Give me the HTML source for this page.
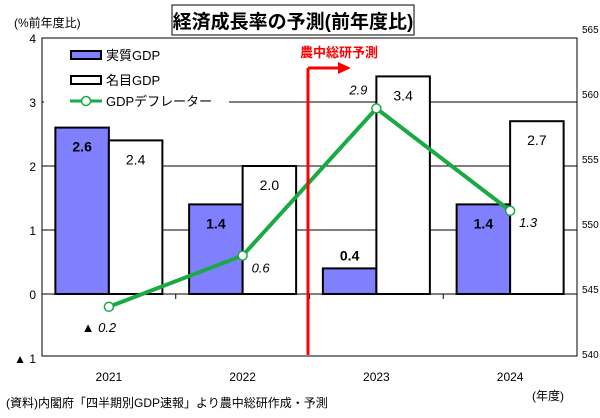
<!DOCTYPE html>
<html><head><meta charset="utf-8"><style>
body{margin:0;background:#fff;}
svg text{font-family:"Liberation Sans","Noto Sans CJK JP",sans-serif;}
</style></head><body>
<svg id="chart" width="600" height="413" viewBox="0 0 600 413" xmlns="http://www.w3.org/2000/svg">
<rect x="0" y="0" width="600" height="413" fill="#fff"/>
<g id="grid"></g>
<rect x="42" y="38" width="535" height="318" fill="none" stroke="#000" stroke-width="1"/>
<g id="bars"></g>
<g id="line"></g>
<g id="axes"></g>
<rect x="172" y="5" width="242" height="30" fill="#fff" stroke="#000" stroke-width="1"/>
<text x="293" y="28" font-size="19" font-weight="bold" text-anchor="middle">経済成長率の予測(前年度比)</text>
<text x="14" y="27" font-size="12">(%前年度比)</text>
<rect x="44" y="42" width="185" height="70" fill="#fff"/>
<rect x="71" y="51" width="30" height="8" fill="#8080ff" stroke="#000" stroke-width="2"/>
<text x="106" y="60" font-size="13">実質GDP</text>
<rect x="71" y="76" width="30" height="8" fill="#fff" stroke="#000" stroke-width="2"/>
<text x="106" y="85" font-size="13">名目GDP</text>
<line x1="70" y1="101" x2="102" y2="101" stroke="#1aaa44" stroke-width="3"/>
<circle cx="86" cy="101" r="4.5" fill="#fff" stroke="#1aaa44" stroke-width="1.5"/>
<text x="106" y="106" font-size="13">GDPデフレーター</text>
<g>
<line x1="308" y1="68" x2="308" y2="355" stroke="#ff0000" stroke-width="3"/>
<line x1="308" y1="68" x2="340" y2="68" stroke="#ff0000" stroke-width="3"/>
<polygon points="338,62 351,68 338,74" fill="#ff0000"/>
<text x="300" y="57" font-size="13" font-weight="bold" fill="#ff0000">農中総研予測</text>
</g>
<text x="532" y="400" font-size="12">(年度)</text>
<text x="6" y="407" font-size="12">(資料)内閣府「四半期別GDP速報」より農中総研作成・予測</text>
<script>
const categories=["2021","2022","2023","2024"];
const realGDP=[2.6,1.4,0.4,1.4];
const nominalGDP=[2.4,2.0,3.4,2.7];
const deflator=[-0.2,0.6,2.9,1.3];
const leftTicks=[4,3,2,1,0,-1];
const rightTicks=[565,560,555,550,545,540];
const NS="http://www.w3.org/2000/svg";
const X0=42,X1=577,Y0=294,U=64;
const bw=(X1-X0)/categories.length;
const y=v=>Y0-v*U;
const cx=i=>X0+bw*(i+0.5);
const yr=v=>29+(565-v)*13;
function mk(tag,attrs,parent,txt){const e=document.createElementNS(NS,tag);for(const k in attrs)e.setAttribute(k,attrs[k]);if(txt!==undefined)e.textContent=txt;document.getElementById(parent).appendChild(e);return e;}
const lab=v=>v<0?"▲ "+Math.abs(v).toFixed(1):v.toFixed(1);
leftTicks.forEach(t=>{
 if(t>-1&&t<4){const g=mk('line',{x1:X0,x2:X1,y1:y(t),y2:y(t),stroke:'#000','stroke-width':1},'grid');
 
 }
 const l=mk('text',{x:36,y:y(t)+5,'font-size':12,'text-anchor':'end'},'axes',t<0?"▲ "+Math.abs(t):String(t));
 
 
});
rightTicks.forEach(t=>{
 const l=mk('text',{x:582,y:yr(t)+4,'font-size':10},'axes',String(t));
 
 
});
categories.forEach((c,i)=>{
 const l=mk('text',{x:cx(i),y:381,'font-size':12,'text-anchor':'middle'},'axes',c);
 
 
 if(i>0){const tk=mk('line',{x1:X0+bw*i,x2:X0+bw*i,y1:Y0,y2:Y0+5,stroke:'#000'},'axes');
 
 }
 const w=bw*0.4;
 const r=mk('rect',{x:cx(i)-w,y:Math.min(y(realGDP[i]),Y0),width:w,height:Math.abs(realGDP[i])*U,fill:'#8080ff',stroke:'#000','stroke-width':2},'bars');
 
 
 const n=mk('rect',{x:cx(i),y:Math.min(y(nominalGDP[i]),Y0),width:w,height:Math.abs(nominalGDP[i])*U,fill:'#fff',stroke:'#000','stroke-width':2},'bars');
 
 
 const rl=mk('text',{x:cx(i)-w/2,y:y(realGDP[i])+(realGDP[i]>1?24:-8),'font-size':14,'font-weight':'bold','text-anchor':'middle'},'bars',lab(realGDP[i]));
 
 
 const nl=mk('text',{x:cx(i)+w/2,y:y(nominalGDP[i])+24,'font-size':14,'text-anchor':'middle'},'bars',lab(nominalGDP[i]));
 
 
});
const pts=deflator.map((v,i)=>cx(i)+','+y(v)).join(' ');
const pl=mk('polyline',{points:pts,fill:'none',stroke:'#1aaa44','stroke-width':4},'line');


deflator.forEach((v,i)=>{
 const p=mk('circle',{cx:cx(i),cy:y(v),r:4.5,fill:'#fff',stroke:'#1aaa44','stroke-width':1.5},'line');
 
 
 let lx=cx(i)-18,ly=y(v)+22;
 if(i===0){lx=cx(i)-10;ly=y(v)+25;}
 if(i===1){lx=cx(i)+18;ly=y(v)+17;}
 if(i===2){lx=cx(i)-18;ly=y(v)-14;}
 if(i===3){lx=cx(i)+18;ly=y(v)+16;}
 const t=mk('text',{x:lx,y:ly,'font-size':13,'font-style':'italic','text-anchor':'middle'},'line',lab(v));
 
 
});
</script>
</svg>
</body></html>
